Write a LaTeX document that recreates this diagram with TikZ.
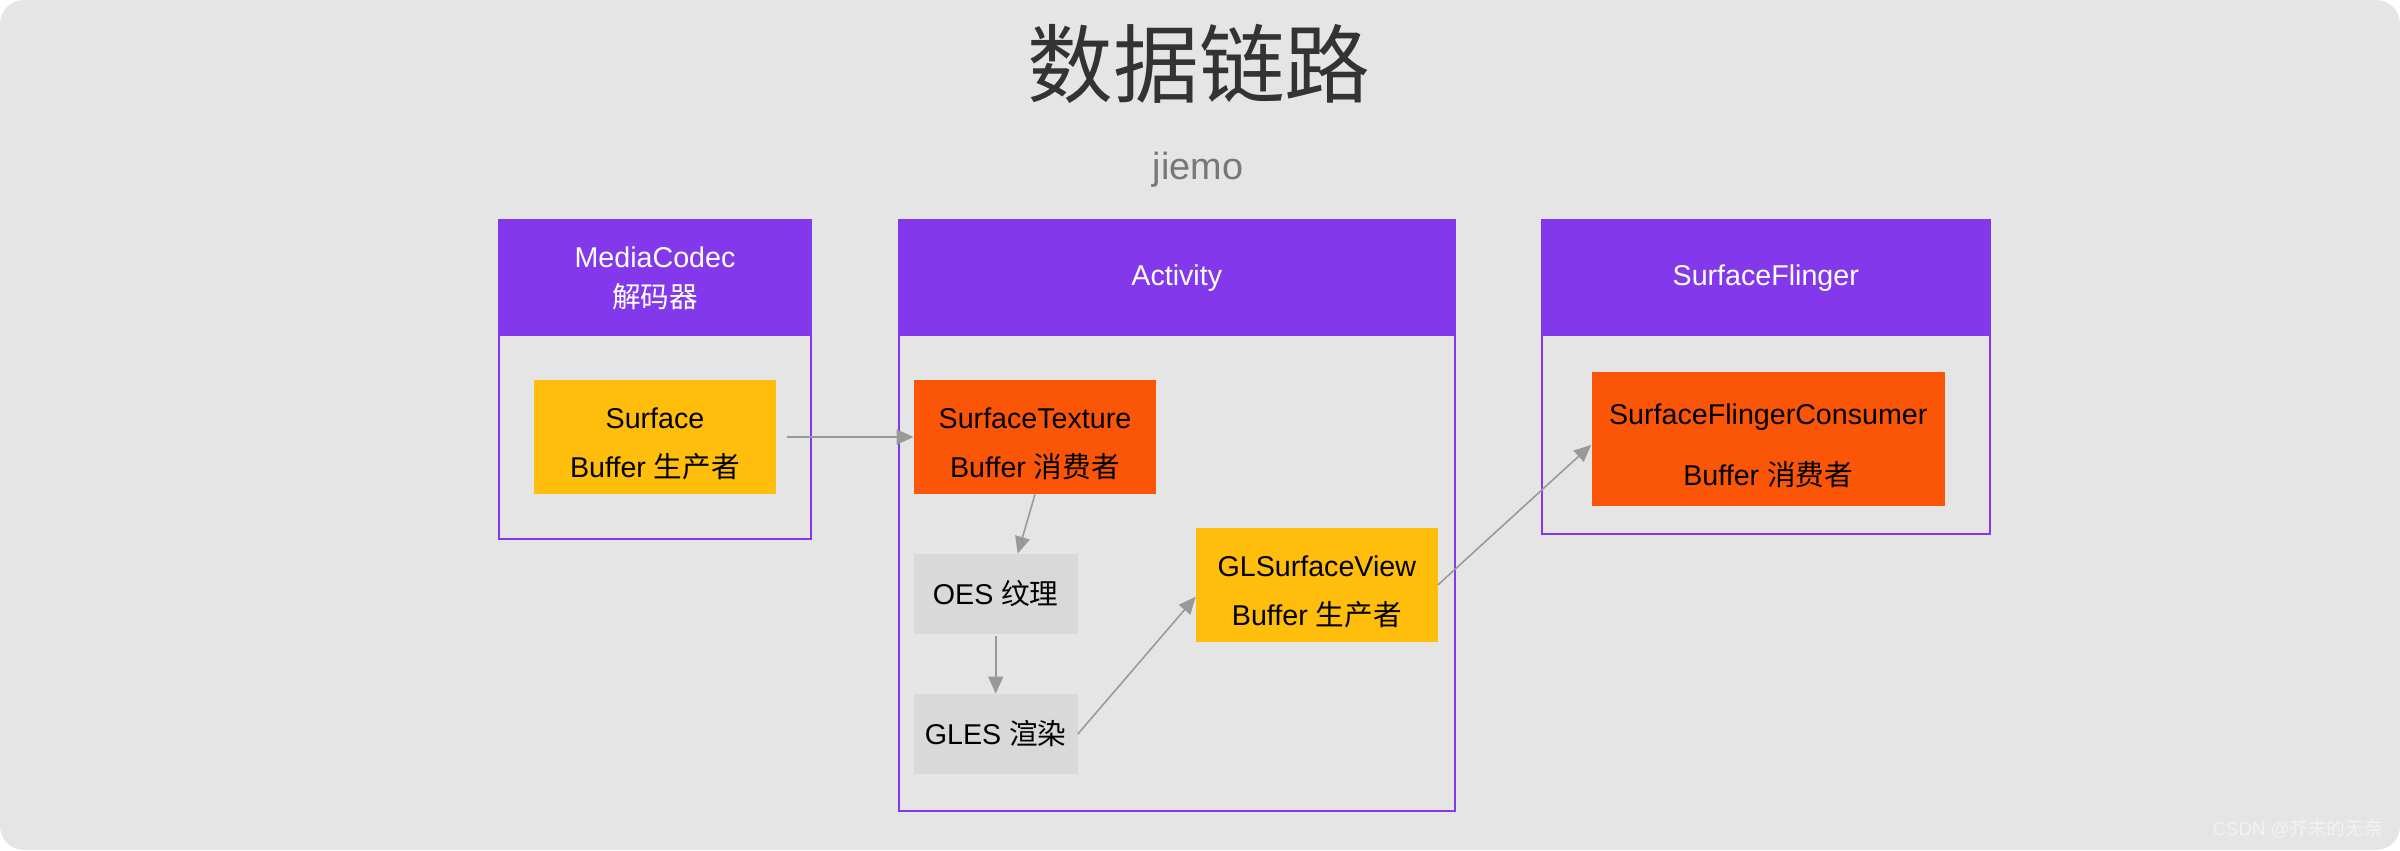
\documentclass[tikz,border=0pt]{standalone}
\usepackage{fontspec}
\setmainfont{Liberation Sans}
\newfontfamily\cjk{Noto Sans CJK SC}
\usetikzlibrary{arrows.meta}

\newdimen\px
\px=0.02cm
\newcommand\topgap{\rule{0pt}{19.5pt}}

\definecolor{bgcol}{HTML}{E5E5E5}
\definecolor{purplehead}{HTML}{8338EC}
\definecolor{yellowbuf}{HTML}{FFBE0B}
\definecolor{orangebuf}{HTML}{FB5607}
\definecolor{graystage}{HTML}{D9D9D9}
\definecolor{flowline}{HTML}{999999}
\definecolor{titletext}{HTML}{333333}
\definecolor{subtext}{HTML}{777777}
\definecolor{marktext}{HTML}{F3F3F3}

\tikzset{
	boxframe/.style={draw=purplehead, line width=2\px, inner sep=0pt},
	header/.style={fill=purplehead, text=white, inner sep=0pt, align=center, font=\fontsize{16.3}{22.8}\selectfont},
	buffer/.style={inner sep=0pt, align=center, text=black, font=\fontsize{16.3}{27.9}\selectfont},
	producer/.style={buffer, fill=yellowbuf},
	consumer/.style={buffer, fill=orangebuf},
	stage/.style={buffer, fill=graystage},
	flow/.style={draw=flowline, line width=0.9pt, -{Triangle[length=9.7pt,width=8.5pt]}}
}

\begin{document}
\begin{tikzpicture}[x=1\px, y=-1\px]
	
	\useasboundingbox (0,0) rectangle (2400,850);
	\fill[bgcol, rounded corners=24\px] (0,0) rectangle (2400,850);
	
	\node[text=titletext, font=\cjk\fontsize{48.8}{50}\selectfont] (title) at (1199,64) {数据链路};
	\node[text=subtext, font=\fontsize{21.5}{24}\selectfont] (author) at (1198,170) {jiemo};
	
	\node[boxframe, minimum width=312\px, minimum height=319\px] (mcframe) at (655,379.5) {};
	\node[header, minimum width=312\px, minimum height=116\px] (mchead) at (655,278) {MediaCodec\\{\cjk 解码器}};
	
	\node[boxframe, minimum width=556.5\px, minimum height=590.7\px] (actframe) at (1176.75,515.35) {};
	\node[header, minimum width=556.5\px, minimum height=116\px] (acthead) at (1176.75,278) {Activity};
	
	\node[boxframe, minimum width=447.5\px, minimum height=314\px] (sfframe) at (1765.75,377) {};
	\node[header, minimum width=447.5\px, minimum height=116\px] (sfhead) at (1765.75,278) {SurfaceFlinger};
	
	\node[producer, minimum width=242\px, minimum height=114\px] (surface) at (655,437) {\topgap Surface\\Buffer {\cjk 生产者}};
	\node[consumer, minimum width=242\px, minimum height=114\px] (st) at (1035,437) {\topgap SurfaceTexture\\Buffer {\cjk 消费者}};
	\node[stage, minimum width=163.5\px, minimum height=80\px] (oes) at (995.75,594) {OES {\cjk 纹理}};
	\node[stage, minimum width=163.5\px, minimum height=80\px] (gles) at (995.75,734) {GLES {\cjk 渲染}};
	\node[producer, minimum width=241.6\px, minimum height=113.7\px] (glsv) at (1316.8,584.85) {\topgap GLSurfaceView\\Buffer {\cjk 生产者}};
	\node[consumer, minimum width=353.5\px, minimum height=133.7\px, font=\fontsize{16.3}{35}\selectfont] (sfc) at (1768.25,438.85) {\topgap SurfaceFlingerConsumer\\Buffer {\cjk 消费者}};
	
	\draw[flow] ([xshift=6.3pt]surface.east) -- (st.west);
	\draw[flow] (st.south) -- ([xshift=12.5pt]oes.north);
	\draw[flow] ([yshift=-1.1pt]oes.south) -- (gles.north);
	\draw[flow] (gles.east) -- ([yshift=-6.8pt]glsv.west);
	\draw[flow] (glsv.east) -- ([yshift=-3.4pt]sfc.west);
	
	\node[text=marktext, anchor=east, inner sep=0pt, font=\fontsize{10.6}{13}\selectfont] (mark) at (2383,829) {CSDN @{\cjk 芥末的无奈}};
	
\end{tikzpicture}
\end{document}
